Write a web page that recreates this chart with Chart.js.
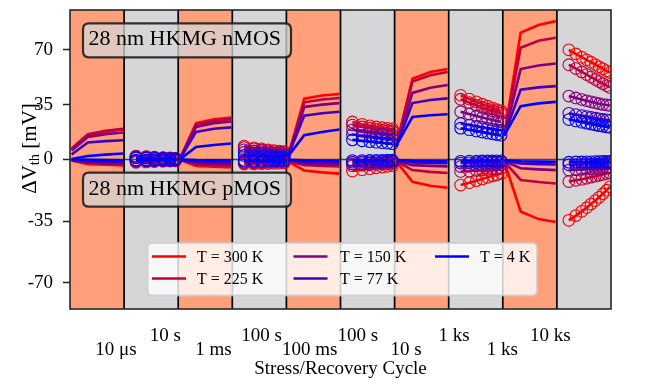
<!DOCTYPE html>
<html>
<head>
<meta charset="utf-8">
<script src="https://cdn.jsdelivr.net/npm/chart.js@4.4.1/dist/chart.umd.min.js"></script>
<style>
html,body{margin:0;padding:0;background:#fff;}
#wrap{width:647px;height:384px;position:relative;}
</style>
</head>
<body>
<div id="wrap"><canvas id="c" width="647" height="384" style="width:647px;height:384px"></canvas></div>
<script>
// ---------------- data ----------------
const cycleLabels = ['10 μs', '10 s', '1 ms', '100 s', '100 ms', '100 s', '10 s', '1 ks', '1 ks', '10 ks'];
const cycleKinds = ['stress', 'recovery', 'stress', 'recovery', 'stress', 'recovery', 'stress', 'recovery', 'stress', 'recovery'];
const tickPositions = [0.85, 1.76, 2.65, 3.54, 4.43, 5.32, 6.21, 7.10, 7.99, 8.88];
const yTicksN = [35, 70];
const yTicksP = [0, -35, -70];
const temperatures = ['300 K', '225 K', '150 K', '77 K', '4 K'];

// position of the samples inside a cycle (fraction of the cycle)
const stressFrac = [0.03, 0.33, 0.66, 0.98];
const recoveryFrac2 = [0.22, 0.41, 0.56, 0.72, 0.85, 0.95];
const recoveryFrac4 = [0.22, 0.40, 0.54, 0.66, 0.77, 0.87, 0.96];
const recoveryFrac6 = [0.22, 0.40, 0.54, 0.66, 0.77, 0.87, 0.96];
const recoveryFrac8 = [0.22, 0.38, 0.51, 0.62, 0.72, 0.81, 0.89, 0.97];
const recoveryFrac10 = [0.22, 0.35, 0.46, 0.55, 0.63, 0.71, 0.78, 0.85, 0.92, 0.98];

// nMOS stress phases (cycles 1,3,5,7,9), mV
const nStress300 = [[6.5, 15.5, 17.8, 19.2], [0.3, 23.2, 25.6, 26.8], [2.0, 38.8, 40.8, 41.8], [8.5, 51.5, 55.8, 57.8], [15.5, 81.0, 85.8, 88.3]];
const nStress225 = [[7.0, 16.2, 18.4, 19.6], [0.3, 22.3, 24.6, 25.8], [2.0, 36.5, 38.3, 39.2], [8.5, 49.8, 53.8, 55.8], [15.5, 71.3, 75.8, 77.7]];
const nStress150 = [[5.8, 14.4, 16.2, 17.2], [0.3, 20.8, 23.2, 24.3], [2.0, 33.5, 35.0, 36.0], [8.2, 42.5, 45.8, 47.5], [15.5, 57.7, 60.0, 61.3]];
const nStress77 = [[3.2, 10.8, 11.7, 12.3], [0.2, 17.6, 19.6, 20.5], [2.0, 28.0, 29.5, 30.5], [8.0, 36.0, 38.0, 39.0], [15.5, 44.6, 46.0, 46.8]];
const nStress4 = [[0.3, 2.2, 3.1, 3.8], [0.1, 8.0, 9.3, 10.2], [2.0, 15.5, 17.6, 19.2], [8.8, 27.2, 28.2, 28.9], [15.5, 34.0, 35.8, 36.8]];

// nMOS recovery phases (cycles 2,4,6,8,10), mV
const nRecovery300 = [[2.2, 1.8, 1.5, 1.2, 1.0, 0.8], [8.6, 7.5, 6.8, 6.2, 5.7, 5.3, 5.0], [24.0, 22.5, 21.5, 20.8, 20.3, 19.9, 19.5], [41.0, 38.6, 36.8, 35.3, 34.0, 32.8, 31.8, 31.0], [70.0, 67.4, 65.3, 63.6, 62.1, 60.6, 59.2, 57.9, 56.6, 55.5]];
const nRecovery225 = [[2.0, 1.7, 1.4, 1.1, 0.9, 0.7], [7.6, 6.8, 6.1, 5.6, 5.1, 4.8, 4.5], [22.0, 20.8, 19.9, 19.3, 18.8, 18.4, 18.0], [38.5, 36.3, 34.6, 33.2, 32.0, 31.0, 30.2, 29.5], [60.5, 58.0, 55.9, 54.2, 52.6, 51.1, 49.7, 48.4, 47.1, 46.0]];
const nRecovery150 = [[1.7, 1.4, 1.2, 0.9, 0.7, 0.6], [6.2, 5.5, 5.0, 4.5, 4.1, 3.8, 3.5], [19.0, 18.0, 17.3, 16.7, 16.2, 15.8, 15.5], [30.5, 29.0, 27.8, 26.8, 26.0, 25.2, 24.6, 24.0], [40.5, 39.3, 38.3, 37.5, 36.8, 36.2, 35.6, 35.1, 34.8, 34.5]];
const nRecovery77 = [[1.3, 1.1, 0.9, 0.7, 0.6, 0.5], [4.6, 4.1, 3.7, 3.3, 3.0, 2.7, 2.5], [16.0, 15.2, 14.6, 14.1, 13.7, 13.3, 13.0], [23.0, 22.0, 21.2, 20.5, 19.9, 19.3, 18.9, 18.5], [29.5, 28.7, 28.0, 27.4, 26.9, 26.4, 26.0, 25.6, 25.3, 25.0]];
const nRecovery4 = [[1.0, 0.8, 0.6, 0.5, 0.4, 0.3], [2.6, 2.3, 2.0, 1.8, 1.6, 1.4, 1.3], [12.5, 11.9, 11.4, 11.0, 10.7, 10.4, 10.1], [20.0, 19.0, 18.2, 17.5, 16.9, 16.3, 15.9, 15.5], [25.5, 24.6, 23.8, 23.2, 22.6, 22.1, 21.6, 21.2, 20.8, 20.5]];

// pMOS stress phases, mV
const pStress300 = [[-0.5, -2.6, -3.0, -3.4], [-0.2, -3.6, -4.1, -4.5], [-1.0, -6.2, -7.3, -8.0], [-1.0, -12.7, -14.9, -16.0], [-1.5, -29.5, -33.8, -35.5]];
const pStress225 = [[-0.4, -2.0, -2.5, -2.8], [-0.2, -2.8, -3.2, -3.5], [-0.8, -3.2, -3.6, -4.0], [-1.0, -6.0, -7.0, -7.7], [-1.2, -11.6, -12.8, -13.6]];
const pStress150 = [[-0.3, -1.5, -1.9, -2.1], [-0.2, -2.0, -2.4, -2.6], [-0.6, -2.3, -2.6, -2.9], [-0.8, -3.2, -3.6, -3.9], [-1.0, -5.0, -5.6, -6.0]];
const pStress77 = [[-0.2, -1.0, -1.3, -1.5], [-0.1, -1.2, -1.5, -1.7], [-0.4, -1.4, -1.7, -1.9], [-0.6, -1.7, -1.9, -2.1], [-0.8, -2.3, -2.6, -2.8]];
const pStress4 = [[0.0, -0.2, -0.3, -0.4], [0.0, -0.3, -0.4, -0.5], [-0.2, -0.5, -0.6, -0.7], [-0.3, -0.8, -0.9, -1.0], [-0.5, -1.0, -1.2, -1.3]];

// pMOS recovery phases, mV
const pRecovery300 = [[-1.6, -1.4, -1.2, -1.0, -0.9, -0.8], [-2.6, -2.5, -2.4, -2.3, -2.2, -2.1, -2.0], [-6.5, -5.8, -5.2, -4.7, -4.3, -3.9, -3.5], [-14.5, -13.2, -12.0, -11.0, -10.1, -9.3, -8.6, -8.0], [-34.5, -31.8, -29.4, -27.3, -25.3, -23.3, -21.4, -19.4, -17.4, -15.5]];
const pRecovery225 = [[-1.2, -1.0, -0.9, -0.8, -0.7, -0.6], [-2.0, -1.9, -1.8, -1.7, -1.6, -1.5, -1.5], [-3.5, -3.2, -3.0, -2.8, -2.6, -2.4, -2.3], [-6.8, -6.5, -6.2, -5.9, -5.6, -5.4, -5.2, -5.0], [-12.5, -11.8, -11.2, -10.6, -10.0, -9.5, -9.0, -8.5, -8.0, -7.5]];
const pRecovery150 = [[-0.9, -0.8, -0.7, -0.6, -0.5, -0.5], [-1.5, -1.4, -1.3, -1.2, -1.1, -1.0, -1.0], [-2.5, -2.3, -2.1, -2.0, -1.9, -1.7, -1.6], [-4.0, -3.8, -3.6, -3.5, -3.4, -3.2, -3.1, -3.0], [-6.0, -5.8, -5.6, -5.4, -5.2, -5.0, -4.9, -4.7, -4.6, -4.5]];
const pRecovery77 = [[-0.6, -0.5, -0.5, -0.4, -0.4, -0.3], [-1.0, -0.9, -0.9, -0.8, -0.8, -0.7, -0.7], [-1.5, -1.4, -1.3, -1.2, -1.1, -1.1, -1.0], [-2.0, -1.9, -1.8, -1.7, -1.7, -1.6, -1.5, -1.5], [-3.0, -2.9, -2.8, -2.7, -2.6, -2.5, -2.4, -2.3, -2.3, -2.2]];
const pRecovery4 = [[-0.3, -0.3, -0.2, -0.2, -0.2, -0.1], [-0.5, -0.5, -0.4, -0.4, -0.4, -0.3, -0.3], [-0.6, -0.6, -0.5, -0.5, -0.5, -0.4, -0.4], [-1.0, -0.9, -0.9, -0.8, -0.8, -0.8, -0.7, -0.7], [-1.5, -1.4, -1.4, -1.3, -1.3, -1.2, -1.2, -1.1, -1.1, -1.0]];

// ---------------- styles ----------------
const tempColors = ['#ff0000', '#bf0040', '#800080', '#4000bf', '#0000ff'];
const stressColor = '#ffa07a';
const recoveryColor = '#d6d6d9';
const FONT = "'Liberation Serif', 'Times New Roman', serif";

// ---------------- build datasets ----------------
const stressCycles = [0, 2, 4, 6, 8];
const recoveryCycles = [1, 3, 5, 7, 9];
const recoveryFracs = [recoveryFrac2, recoveryFrac4, recoveryFrac6, recoveryFrac8, recoveryFrac10];

function toPoints(segments, cycles, fracFor) {
  const pts = [];
  segments.forEach((seg, k) => {
    const c = cycles[k];
    const f = fracFor(k);
    seg.forEach((v, j) => pts.push({x: c + f[j], y: v}));
    pts.push({x: c + 1, y: null});
  });
  return pts;
}

const nStress = [nStress300, nStress225, nStress150, nStress77, nStress4];
const nRecovery = [nRecovery300, nRecovery225, nRecovery150, nRecovery77, nRecovery4];
const pStress = [pStress300, pStress225, pStress150, pStress77, pStress4];
const pRecovery = [pRecovery300, pRecovery225, pRecovery150, pRecovery77, pRecovery4];

const datasets = [];
const clipOpt = {left: 0, right: 0, top: false, bottom: false};
for (let t = temperatures.length - 1; t >= 0; t--) {
  const col = tempColors[t];
  [['yN', nStress[t], nRecovery[t]], ['yP', pStress[t], pRecovery[t]]].forEach(([axis, st, rc]) => {
    datasets.push({
      label: 'T = ' + temperatures[t], yAxisID: axis, xAxisID: 'x',
      data: toPoints(st, stressCycles, () => stressFrac),
      borderColor: col, borderWidth: 2.6, pointRadius: 0, tension: 0, fill: false, clip: clipOpt
    });
    datasets.push({
      label: 'T = ' + temperatures[t], yAxisID: axis, xAxisID: 'x',
      data: toPoints(rc, recoveryCycles, (k) => recoveryFracs[k]),
      borderColor: col, borderWidth: 2.6, pointRadius: 5.8, pointStyle: 'circle',
      pointBackgroundColor: 'rgba(0,0,0,0)', pointBorderColor: col, pointBorderWidth: 1.1,
      tension: 0, fill: false, clip: clipOpt
    });
  });
}

// ---------------- decorations ----------------
function roundRect(ctx, x, y, w, h, r) {
  ctx.beginPath();
  ctx.moveTo(x + r, y);
  ctx.lineTo(x + w - r, y); ctx.quadraticCurveTo(x + w, y, x + w, y + r);
  ctx.lineTo(x + w, y + h - r); ctx.quadraticCurveTo(x + w, y + h, x + w - r, y + h);
  ctx.lineTo(x + r, y + h); ctx.quadraticCurveTo(x, y + h, x, y + h - r);
  ctx.lineTo(x, y + r); ctx.quadraticCurveTo(x, y, x + r, y);
  ctx.closePath();
}

const decor = {
  id: 'decor',
  beforeDatasetsDraw(chart) {
    const {ctx, chartArea: a, scales} = chart;
    const x = scales.x;
    ctx.save();
    cycleKinds.forEach((k, i) => {
      const x0 = x.getPixelForValue(i), x1 = x.getPixelForValue(i + 1);
      ctx.fillStyle = k === 'stress' ? stressColor : recoveryColor;
      ctx.fillRect(x0, a.top, x1 - x0, a.bottom - a.top);
    });
    const y0 = scales.yN.getPixelForValue(0);
    ctx.strokeStyle = '#444'; ctx.lineWidth = 1.4;
    ctx.beginPath(); ctx.moveTo(a.left, y0); ctx.lineTo(a.right, y0); ctx.stroke();
    ctx.strokeStyle = '#000'; ctx.lineWidth = 1.7;
    for (let i = 1; i < cycleKinds.length; i++) {
      const px = x.getPixelForValue(i);
      ctx.beginPath(); ctx.moveTo(px, a.top); ctx.lineTo(px, a.bottom); ctx.stroke();
    }
    ctx.restore();
  },
  afterDatasetsDraw(chart) {
    const {ctx, chartArea: a} = chart;
    ctx.save();
    // frame
    ctx.strokeStyle = '#262626'; ctx.lineWidth = 1.6;
    ctx.strokeRect(a.left, a.top, a.right - a.left, a.bottom - a.top);

    // device boxes
    const boxes = [['28 nm HKMG nMOS', 23.3, 45], ['28 nm HKMG pMOS', 172.7, 195]];
    boxes.forEach(([txt, top, base]) => {
      roundRect(ctx, 83, top, 208, 34, 6);
      ctx.fillStyle = 'rgba(214,214,214,0.75)';
      ctx.fill();
      ctx.strokeStyle = 'rgba(30,30,30,0.9)'; ctx.lineWidth = 2.2;
      ctx.stroke();
      ctx.fillStyle = '#000';
      ctx.font = '22px ' + FONT;
      ctx.textAlign = 'left'; ctx.textBaseline = 'alphabetic';
      ctx.fillText(txt, 88.5, base);
    });

    // legend
    roundRect(ctx, 147.5, 243, 389.5, 52.5, 5);
    ctx.fillStyle = 'rgba(255,255,255,0.8)';
    ctx.fill();
    ctx.strokeStyle = 'rgba(204,204,204,0.8)'; ctx.lineWidth = 2;
    ctx.stroke();
    const colX = [152, 293.5, 435];
    const textX = [197, 340, 480];
    const rowY = [256.5, 278.5];
    temperatures.forEach((t, i) => {
      const c = Math.floor(i / 2), r = i % 2;
      ctx.strokeStyle = tempColors[i]; ctx.lineWidth = 2.6;
      ctx.beginPath(); ctx.moveTo(colX[c], rowY[r]); ctx.lineTo(colX[c] + 34, rowY[r]); ctx.stroke();
      ctx.fillStyle = '#000';
      ctx.font = '16px ' + FONT;
      ctx.textAlign = 'left'; ctx.textBaseline = 'middle';
      ctx.fillText('T = ' + t, textX[c], rowY[r] + 1);
    });

    // y-axis title with subscript
    ctx.translate(30, 148.5);
    ctx.rotate(-Math.PI / 2);
    const big = '21px ' + FONT, small = '14.5px ' + FONT;
    ctx.font = big; const w1 = ctx.measureText('ΔV').width;
    ctx.font = small; const w2 = ctx.measureText('th').width;
    ctx.font = big; const w3 = ctx.measureText(' [mV]').width;
    let sx = -(w1 + w2 + w3) / 2;
    ctx.fillStyle = '#000'; ctx.textBaseline = 'middle'; ctx.textAlign = 'left';
    ctx.font = big; ctx.fillText('ΔV', sx, 0); sx += w1;
    ctx.font = small; ctx.fillText('th', sx, 5); sx += w2;
    ctx.font = big; ctx.fillText(' [mV]', sx, 0);
    ctx.restore();
  }
};

// ---------------- chart ----------------
function noPad(s) { s.paddingTop = 0; s.paddingBottom = 0; s.paddingLeft = 0; s.paddingRight = 0; }
const yCommon = {
  type: 'linear', position: 'left', stack: 'v', stackWeight: 1,
  grid: {display: true, drawOnChartArea: false, drawTicks: true, tickLength: 7, tickWidth: 1.5, tickColor: '#222'},
  border: {display: false},
  ticks: {color: '#000', font: {family: FONT, size: 19}, padding: 10},
  afterFit: (s) => { s.width = 70; noPad(s); }
};

new Chart(document.getElementById('c'), {
  type: 'line',
  data: {datasets},
  options: {
    responsive: false, animation: false, events: [],
    layout: {padding: {top: 10, right: 36, left: 0, bottom: 0}},
    plugins: {legend: {display: false}, tooltip: {enabled: false}},
    scales: {
      yP: Object.assign({}, yCommon, {
        min: -84.8, max: 0,
        afterBuildTicks: (s) => { s.ticks = yTicksP.map(v => ({value: v})); }
      }),
      yN: Object.assign({}, yCommon, {
        min: 0, max: 95.4,
        afterBuildTicks: (s) => { s.ticks = yTicksN.map(v => ({value: v})); }
      }),
      x: {
        type: 'linear', position: 'bottom', min: 0, max: cycleKinds.length,
        grid: {display: false}, border: {display: false},
        afterBuildTicks: (s) => { s.ticks = tickPositions.map(v => ({value: v})); },
        ticks: {
          autoSkip: false, maxRotation: 0, minRotation: 0, color: '#000', padding: 11.5,
          font: {family: FONT, size: 19, lineHeight: 0.763},
          callback: (v, i) => (i % 2 === 0 ? ['', cycleLabels[i]] : [cycleLabels[i]])
        },
        title: {display: true, text: 'Stress/Recovery Cycle', color: '#000',
                font: {family: FONT, size: 19}, padding: {top: 0, bottom: 4}},
        afterFit: (s) => { s.height = 75; noPad(s); }
      }
    }
  },
  plugins: [decor]
});
</script>
</body>
</html>
